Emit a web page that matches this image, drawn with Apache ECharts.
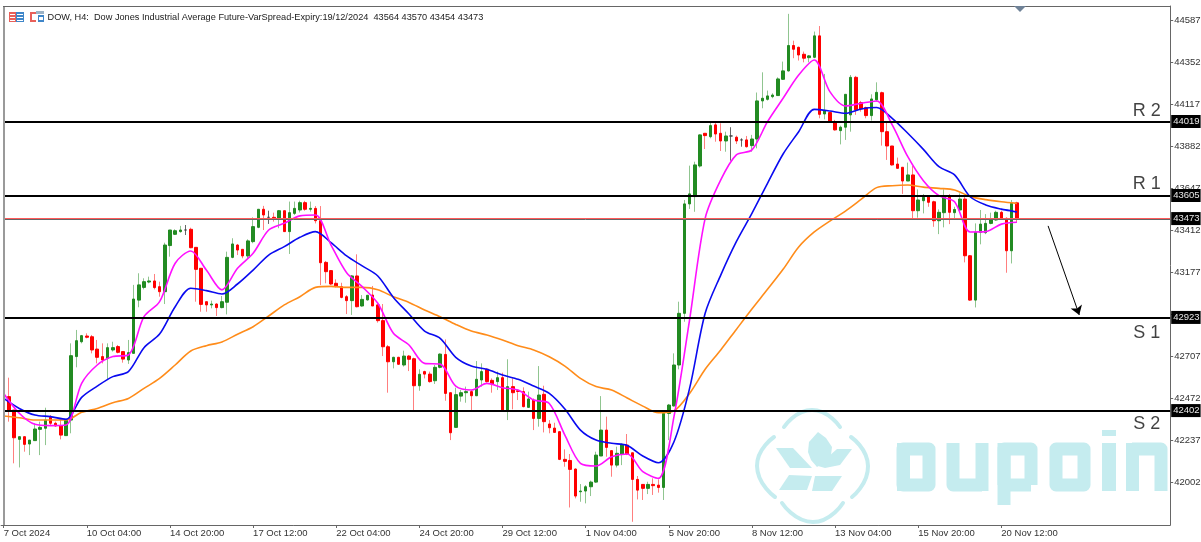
<!DOCTYPE html>
<html><head><meta charset="utf-8">
<style>html,body{margin:0;padding:0;background:#fff}#c{width:1201px;height:542px}</style>
<script src="https://cdn.jsdelivr.net/npm/echarts@6/dist/echarts.min.js"></script>
</head><body><div id="c"></div>
<script>
const title = 'DOW, H4:  Dow Jones Industrial Average Future-VarSpread-Expiry:19/12/2024  43564 43570 43454 43473';
const tickLabels = ['7 Oct 2024','10 Oct 04:00','14 Oct 20:00','17 Oct 12:00','22 Oct 04:00','24 Oct 20:00','29 Oct 12:00','1 Nov 04:00','5 Nov 20:00','8 Nov 12:00','13 Nov 04:00','15 Nov 20:00','20 Nov 12:00'];
const priceTicks = [44587,44352,44117,43882,43647,43412,43177,42942,42707,42472,42237,42002];
const slotCount = 225, tickEvery = 16, maStep = 3;
const opens = [42461,42480,42405,42241,42256,42215,42234,42297,42303,42364,
42331,42316,42262,42349,42704,42787,42819,42815,42746,42704,
42694,42741,42760,42732,42685,42722,43020,43091,43121,43127,
43095,43067,43325,43388,43403,43412,43416,43315,43198,43011,
42993,42998,42978,43008,43259,43328,43304,43267,43347,43427,
43528,43483,43483,43478,43520,43403,43505,43524,43565,43528,
43533,43464,43231,43185,43114,43095,43039,43017,43155,42987,
43021,43048,42993,42905,42759,42675,42700,42657,42707,42692,
42541,42620,42606,42569,42644,42716,42502,42308,42483,42502,
42508,42485,42573,42633,42571,42564,42586,42405,42536,42513,
42508,42420,42461,42358,42493,42327,42304,42284,42129,42123,
42075,41948,41952,41976,42002,42148,42293,42178,42097,42159,
42209,42166,42017,41989,41967,41989,41985,41972,42386,42428,
42657,42946,43558,43599,43770,43953,43934,44000,43953,43910,
43938,43931,43916,43916,43884,43921,44134,44143,44158,44164,
44255,44302,44444,44434,44395,44376,44378,44498,44061,44069,
44018,43968,43987,44056,44266,44125,44097,44052,44140,44180,
43962,43882,43781,43763,43686,43720,43520,43576,43598,43570,
43464,43509,43604,43509,43524,43585,43268,43020,43399,43397,
43449,43468,43511,43477,43296,43564];
const closes = [42480,42405,42250,42256,42213,42237,42299,42308,42349,42331,
42316,42265,42353,42709,42793,42821,42812,42741,42700,42685,
42754,42754,42728,42690,42726,43026,43105,43123,43127,43090,
43067,43328,43412,43408,43412,43412,43313,43192,42996,42993,
42998,42978,43011,43259,43334,43300,43267,43351,43431,43528,
43496,43483,43472,43520,43403,43509,43533,43565,43528,43533,
43464,43229,43179,43110,43099,43035,43017,43155,42983,43024,
43047,42987,42905,42759,42675,42700,42661,42707,42689,42541,
42605,42606,42564,42644,42718,42498,42278,42491,42502,42508,
42485,42577,42620,42564,42551,42586,42401,42536,42502,42509,
42424,42467,42358,42489,42340,42306,42280,42129,42118,42073,
41924,41952,41976,42002,42153,42293,42196,42097,42163,42213,
42159,42017,41957,41967,41989,41982,41972,42386,42433,42657,
42946,43558,43614,43776,43944,43940,43996,43949,43910,43938,
43938,43910,43916,43878,43921,44134,44149,44162,44167,44257,
44302,44444,44423,44391,44373,44386,44498,44059,44078,44018,
43972,43987,44171,44266,44084,44089,44052,44145,44182,43962,
43882,43776,43757,43686,43720,43520,43580,43595,43567,43464,
43511,43595,43511,43527,43585,43268,43020,43399,43445,43449,
43471,43511,43471,43296,43561,43473];
const lows = [42446,42340,42107,42084,42172,42153,42234,42153,42209,42321,
42312,42241,42262,42275,42644,42778,42806,42722,42666,42666,
42577,42732,42722,42670,42663,42722,42980,43080,43114,43080,
43039,42998,43263,43384,43397,43384,43310,43011,42955,42955,
42974,42931,42974,42940,43254,43272,43254,43254,43338,43422,
43412,43446,43459,43422,43403,43278,43496,43510,43520,43515,
43449,43104,43114,43104,43091,43030,42942,42937,42979,42983,
43017,42987,42894,42707,42502,42638,42657,42648,42623,42401,
42513,42582,42558,42551,42638,42457,42237,42308,42452,42446,
42401,42483,42536,42558,42502,42517,42401,42349,42409,42461,
42420,42420,42293,42312,42280,42275,42278,42125,42088,41860,
41911,41892,41883,41924,41998,42148,42144,42032,42084,42097,
42153,41780,41905,41902,41935,41930,41943,41902,42237,42424,
42633,42899,43530,43514,43761,43865,43925,43906,43854,43850,
43800,43893,43878,43873,43850,43869,44093,44136,44149,44164,
44251,44298,44373,44360,44350,44350,44373,44037,44031,44013,
43968,43891,43916,43962,44056,44074,44037,44024,44130,43884,
43804,43772,43757,43614,43686,43471,43481,43505,43542,43430,
43389,43427,43445,43471,43520,43231,43016,42979,43332,43389,
43444,43464,43468,43173,43225,43454];
const highs = [42489,42586,42405,42256,42256,42237,42331,42340,42418,42377,
42340,42349,42353,42778,42853,42825,42834,42825,42797,42778,
42778,42787,42769,42732,42797,43105,43170,43142,43151,43166,
43123,43341,43412,43416,43435,43440,43425,43315,43198,43011,
43017,43002,43043,43291,43366,43334,43304,43360,43483,43528,
43547,43520,43509,43524,43520,43571,43571,43576,43575,43571,
43546,43546,43239,43188,43136,43117,43048,43160,43276,43048,
43048,43099,42998,42998,42769,42703,42703,42737,42713,42698,
42633,42625,42620,42657,42722,42800,42502,42530,42517,42536,
42517,42679,42666,42638,42582,42620,42614,42689,42582,42521,
42532,42508,42470,42651,42541,42349,42334,42288,42185,42159,
42079,41991,41985,42010,42172,42483,42368,42178,42200,42219,
42271,42166,42036,41989,42004,42023,42017,42405,42439,42722,
43011,43580,43772,43794,43947,43953,44018,44018,44009,43962,
43987,43940,43925,43938,43944,44181,44294,44192,44177,44266,
44354,44621,44471,44438,44410,44391,44522,44553,44285,44069,
44028,43996,44171,44279,44274,44134,44102,44171,44238,44186,
44018,43882,43817,43763,43789,43770,43639,43613,43602,43576,
43527,43639,43613,43542,43617,43602,43272,43449,43524,43501,
43509,43520,43520,43483,43580,43570];
const maFast = [42498,42387,42325,42318,42321,42554,42657,42704,42713,42927,
43011,43226,43295,43188,43077,43198,43282,43412,43450,43491,
43496,43328,43173,43095,43002,42834,42769,42666,42662,42539,
42517,42554,42530,42517,42461,42442,42265,42107,42092,42144,
42159,42060,42023,42368,42909,43477,43692,43832,43860,44018,
44149,44279,44363,44186,44106,44121,44134,44000,43822,43688,
43604,43570,43401,43403,43445,43455];
const maMid = [42470,42414,42377,42368,42353,42476,42539,42592,42620,42754,
42830,42983,43086,43073,43054,43110,43188,43272,43319,43371,
43403,43341,43267,43211,43155,43035,42942,42847,42806,42700,
42651,42633,42601,42577,42539,42498,42411,42293,42237,42219,
42207,42148,42110,42228,42526,42946,43160,43347,43505,43673,
43837,43962,44087,44078,44065,44089,44097,44037,43953,43863,
43766,43720,43598,43552,43529,43513];
const maSlow = [42372,42362,42349,42349,42349,42392,42414,42446,42470,42526,
42582,42657,42735,42765,42786,42829,42871,42931,42993,43039,
43091,43097,43091,43091,43078,43039,43007,42965,42927,42884,
42847,42825,42797,42765,42741,42703,42651,42582,42536,42517,
42472,42427,42390,42401,42498,42633,42741,42856,42970,43080,
43192,43317,43401,43462,43518,43583,43649,43660,43664,43652,
43645,43636,43600,43582,43570,43561];
const blackLevels = [44019,43605,42923,42402];
const lastPrice = 43473;
const levelNames = ['R 2','R 1','S 1','S 2'];
const levelNameY = [44078,43670,42836,42327];
const levelNameSlot = 220;
const arrowFrom = [201,43435], arrowTo = [207,42937];

const FONT = '"Liberation Sans"';
const WM = '#c5ecef';
const categories = Array.from({length:slotCount},(_,i)=> i%tickEvery===0 && tickLabels[i/tickEvery] ? tickLabels[i/tickEvery] : '');
const tickIdx = tickLabels.map((_,k)=>k*tickEvery);
const wicks = opens.map((o,i)=>[o,closes[i],lows[i],highs[i]]);
const bodies = opens.map((o,i)=>[o,closes[i],Math.min(o,closes[i]),Math.max(o,closes[i])]);
const maData = a => a.map((v,k)=>[k*maStep,v]);
const maSeries = (a,c) => ({type:'line',data:maData(a),showSymbol:false,symbol:'none',smooth:0.3,z:4,silent:true,
  lineStyle:{color:c,width:1.6},animation:false});
const badge = v => ({show:true,position:'end',distance:1,formatter:String(v),color:'#e8e8e8',backgroundColor:'#000',
  fontFamily:FONT,fontSize:9.5,padding:[2,1,1,2],lineHeight:10});

const wm = (pts,closed) => ({type:closed?'polygon':'polyline',silent:true,z:0,shape:{points:pts},
  style:{fill:null,stroke:WM,lineWidth:13,lineJoin:'round'}});
const wmFill = (pts,smooth) => ({type:'polygon',silent:true,z:0,shape:{points:pts,smooth:smooth||0},style:{fill:WM,stroke:null}});
const wmRect = (x,y,w,h) => ({type:'rect',silent:true,z:0,shape:{x,y,width:w,height:h},style:{fill:WM}});
const arc = pts => ({type:'polyline',silent:true,z:0,shape:{points:pts,smooth:0.6},style:{fill:null,stroke:WM,lineWidth:4,lineCap:'round'}});
const rect = (x,y,w,h,f) => ({type:'rect',silent:true,z:10,shape:{x,y,width:w,height:h},style:{fill:f}});

const graphic = [
  // watermark letters
  wm([[903,449],[929,449],[929,485],[903,485]],true),wmRect(897,443,13,48),
  wm([[953,443],[953,485],[982,485]]),wmRect(975.5,443,13,48),
  wm([[1031,485],[1031,449],[1004,449],[1004,485]]),wmRect(997.5,443,13,62),wm([[1004,485],[1031,485]]),
  wm([[1056,449],[1084,449],[1084,485],[1056,485]],true),
  wmRect(1102,443,14,48),wmRect(1102,430,14,6),
  wmRect(1126,443,13,48),wm([[1132,449],[1161,449],[1161,491]]),
  // watermark logo
  arc([[774,437],[757,466],[775,497]]),
  arc([[851,437],[868,466],[852,497]]),
  arc([[782,503],[813,522],[843,503]]),
  arc([[784,427],[812,410],[840,427]]),
  wmFill([[818,432],[826,438],[832,447],[831,455],[825,462],[817,467],[811,460],[808,452],[809,442]]),
  wmFill([[776,448],[793,448],[812,468],[790,468]]),
  wmFill([[837,449],[852,449],[840,465],[825,468],[818,466]]),
  wmFill([[789,475],[812,476],[807,490],[779,490]]),
  wmFill([[815,476],[842,476],[832,491],[812,491]]),
  // frame: mask to the left of the chart, left and top edges
  rect(0,0,3,524,'#fff'),rect(3,6,2,519,'#9a9a9a'),rect(3,6,1167,1,'#666'),
  // header icons
  rect(9,12,7,10,'#e8605a'),rect(16,12,8,10,'#3f86c9'),
  rect(10,14,5,1,'#fff'),rect(10,17,5,1,'#fff'),rect(10,20,5,1,'#fff'),
  rect(17,14,6,1,'#fff'),rect(17,17,6,1,'#fff'),rect(17,20,6,1,'#fff'),
  rect(30,12,2,10,'#e8605a'),rect(30,12,6,2,'#e8605a'),rect(30,20,6,2,'#e8605a'),
  rect(38,15,6,7,'#3f86c9'),rect(39,17,4,3,'#fff'),rect(36,11,8,3,'#9db3c6'),
  // top marker
  {type:'polygon',silent:true,z:10,shape:{points:[[1014,6],[1026,6],[1020,12]]},style:{fill:'#6f8297'}},
  // header text
  {type:'text',silent:true,z:10,x:47.5,y:17,style:{text:title,fill:'#222',font:'9.2px '+FONT,verticalAlign:'middle'}}
];

const chart = echarts.init(document.getElementById('c'),null,{renderer:'canvas'});
chart.setOption({
  animation:false,backgroundColor:'#fff',
  grid:{left:1.1,right:30.8,top:6,bottom:17,outerBoundsMode:'none',containLabel:false,show:false},
  graphic,
  xAxis:{type:'category',data:categories,boundaryGap:true,
    axisLine:{show:true,lineStyle:{color:'#666'}},
    axisTick:{show:true,length:3,alignWithLabel:true,lineStyle:{color:'#666'},customValues:tickIdx},
    axisLabel:{show:true,customValues:tickIdx,align:'left',margin:3,color:'#333',fontFamily:FONT,fontSize:9.5},
    splitLine:{show:false}},
  yAxis:{type:'value',position:'right',min:41762,max:44665,scale:true,
    axisLine:{show:true,lineStyle:{color:'#666'}},
    axisTick:{show:true,length:3,lineStyle:{color:'#666'},customValues:priceTicks},
    axisLabel:{show:true,customValues:priceTicks,formatter:v=>String(v),margin:4,color:'#333',fontFamily:FONT,fontSize:9.5},
    splitLine:{show:false}},
  series:[
    {type:'candlestick',data:wicks.map(d=>({value:d,itemStyle:d[1]>d[0]?{borderColor:'rgba(34,139,34,.5)',color:'rgba(34,139,34,.5)'}:{}})),barWidth:1,z:2,silent:true,clip:true,
     itemStyle:{color:'rgba(255,0,0,.5)',color0:'rgba(255,0,0,.5)',borderColor:'rgba(255,0,0,.5)',borderColor0:'rgba(255,0,0,.5)',borderColorDoji:'#666',borderWidth:1}},
    {type:'candlestick',data:bodies.map(d=>({value:d,itemStyle:d[1]>d[0]?{borderColor:'#228b22',color:'#228b22'}:{}})),barWidth:3,z:3,silent:true,clip:true,
     itemStyle:{color:'#ff0000',color0:'#ff0000',borderColor:'#ff0000',borderColor0:'#ff0000',borderColorDoji:'#444',borderWidth:1}},
    maSeries(maSlow,'#ff8c1a'),
    maSeries(maMid,'#0a0af0'),
    maSeries(maFast,'#ff10ff'),
    {type:'line',data:[],z:5,silent:true,markLine:{silent:true,symbol:'none',animation:false,z:6,
      data:[
        ...blackLevels.map(v=>({yAxis:v,lineStyle:{color:'#000',width:2,type:'solid'},label:badge(v)})),
        {yAxis:lastPrice-3,lineStyle:{color:'#666',width:1,type:'solid'},label:{show:false}},
        {yAxis:lastPrice+3,lineStyle:{color:'#ff5a5a',width:1.2,type:'solid'},label:badge(lastPrice)}
      ]}},
    {type:'line',data:[],z:5,silent:true,markLine:{silent:true,symbol:['none','arrow'],symbolSize:9,animation:false,z:6,
      label:{show:false},lineStyle:{color:'#000',width:1,type:'solid'},
      data:[[{coord:arrowFrom},{coord:arrowTo}]]}},
    {type:'scatter',silent:true,z:7,symbolSize:1,itemStyle:{color:'transparent'},
      data:levelNames.map((n,k)=>({value:[levelNameSlot,levelNameY[k]],name:n})),
      label:{show:true,position:'inside',formatter:p=>p.name,color:'#111',fontFamily:FONT,fontSize:18}}
  ]
});
</script></body></html>
